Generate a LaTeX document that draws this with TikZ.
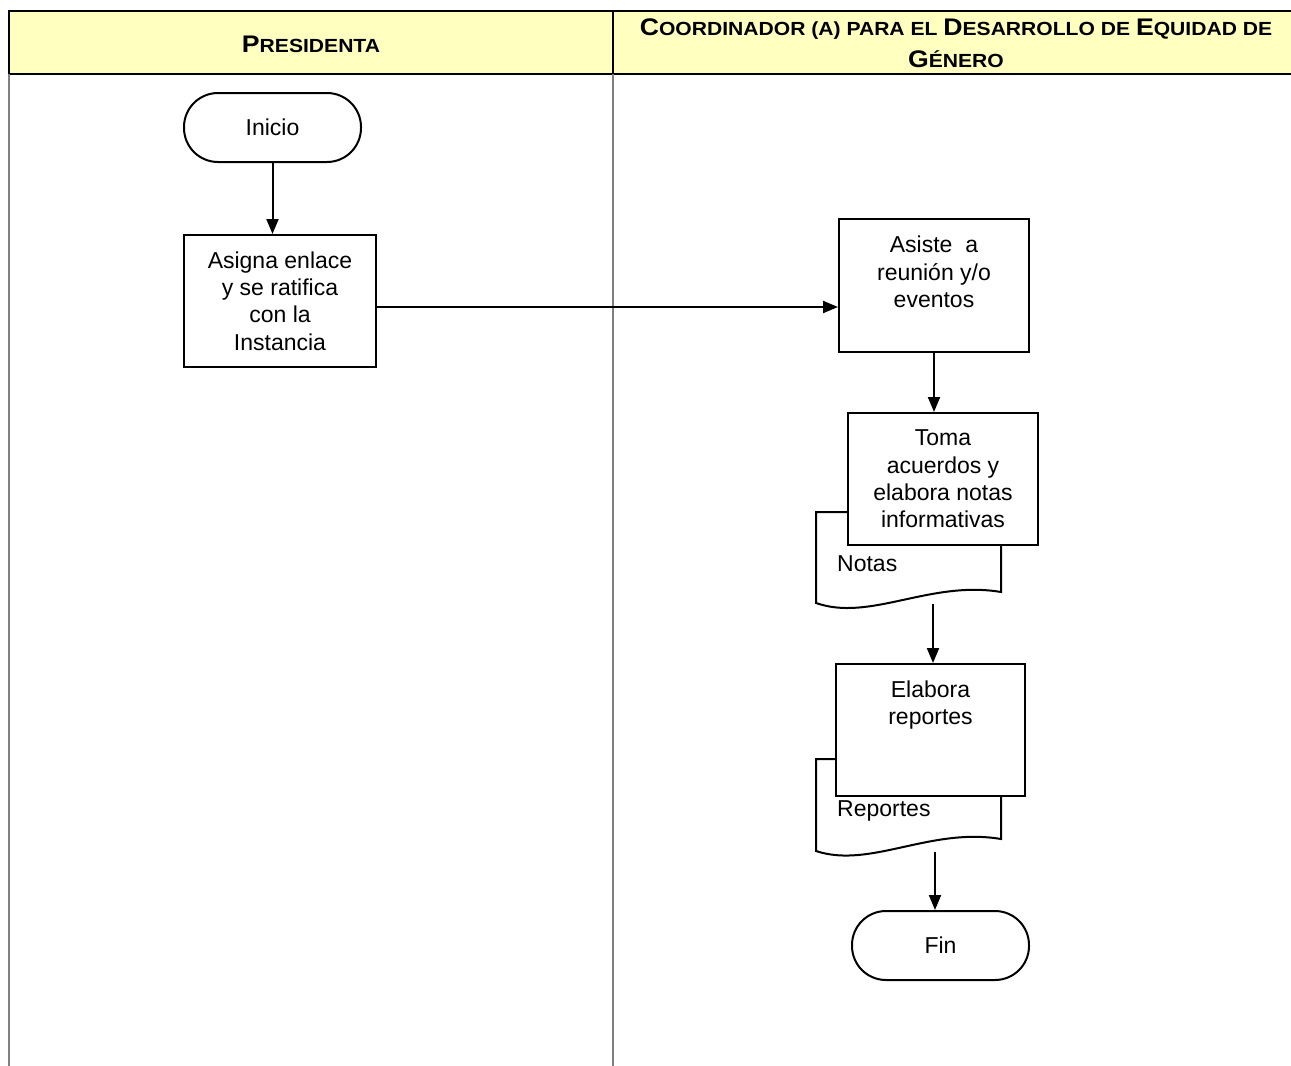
\documentclass[tikz,border=0pt]{standalone}
\usepackage{fontspec}
\setmainfont{Liberation Sans}
\newfontfamily\hdrfont[FakeStretch=1.11]{Liberation Sans Bold}
\usetikzlibrary{arrows.meta}
% larger capitals for the small-caps lane titles
\newcommand\hcap[1]{{\fontsize{24}{32}\selectfont #1}}

\definecolor{hdrfill}{RGB}{255,255,192}
\definecolor{lanegray}{RGB}{128,128,128}

\tikzset{
  body/.style={font=\fontsize{23}{27.3}\selectfont, align=center, inner sep=0pt},
  procbox/.style={body, draw, line width=2pt, fill=white, rectangle},
  termbox/.style={body, draw, line width=2pt, fill=white, rectangle,
                  minimum width=177pt, minimum height=69pt, rounded corners=34pt},
  docshape/.style={draw, line width=2pt, fill=white},
  arr/.style={-{Triangle[length=15pt,width=12pt]}, line width=2pt},
  lane/.style={draw=lanegray, line width=2pt},
  hdrtext/.style={font=\hdrfont\fontsize{19}{32}\selectfont, align=center, inner sep=0pt}
}

\begin{document}
\begin{tikzpicture}[x=1pt,y=-1pt]
\useasboundingbox (0,0) rectangle (1291,1066);

% swimlane header
\fill[hdrfill] (9,11) rectangle (1300,74);
\draw[line width=2.6pt] (1300,11) -- (9,11) -- (9,74) -- (1300,74);
\draw[line width=2.6pt] (613,11) -- (613,74);
\node[hdrtext] (hpres) at (311,44) {\hcap{P}RESIDENTA};
\node[hdrtext] (hcoord) at (956,43) {\hcap{C}OORDINADOR (A) PARA EL \hcap{D}ESARROLLO DE \hcap{E}QUIDAD DE\\\hcap{G}ÉNERO};

% lane separators
\draw[lane] (9,74) -- (9,1066);
\draw[lane] (613,74) -- (613,1066);

% left lane
\node[termbox] (inicio) at (272.5,127.5) {Inicio};
\node[procbox, minimum width=192pt, minimum height=132pt] (asigna) at (280,301)
  {Asigna enlace\\y se ratifica\\con la\\Instancia};

% right lane
\node[procbox, minimum width=190pt, minimum height=133pt] (asiste) at (934,285.5)
  {Asiste\ \ a\\reunión y/o\\eventos\\\mbox{}};

% notes document behind its process box
\draw[docshape] (816,512) -- (1001,512) -- (1001,592)
  .. controls (930,580) and (870,622) .. (816,603) -- cycle;
\node[procbox, minimum width=190pt, minimum height=132pt] (toma) at (943,479)
  {Toma\\acuerdos y\\elabora notas\\informativas};
\node[body, anchor=west] (notas) at (837,564) {Notas};
\coordinate (notasbase) at (933,604);

% reports document behind its process box
\draw[docshape] (816,759) -- (1001,759) -- (1001,839)
  .. controls (930,827) and (870,869) .. (816,851) -- cycle;
\node[procbox, minimum width=189pt, minimum height=132pt] (elabora) at (930.5,730)
  {Elabora\\reportes\\\mbox{}\\\mbox{}};
\node[body, anchor=west] (reportes) at (837,811) {Reportes};
\coordinate (reportesbase) at (935,852);

\node[termbox] (fin) at (940.5,945.5) {Fin};

% connectors
\draw[arr] (inicio) -- (inicio |- asigna.north);
\draw[arr] ([yshift=-6pt]asigna.east) -- ([yshift=-6pt]asigna.east -| asiste.west);
\draw[arr] (asiste) -- (asiste |- toma.north);
\draw[arr] (notasbase) -- (notasbase |- elabora.north);
\draw[arr] (reportesbase) -- (reportesbase |- fin.north);
\end{tikzpicture}
\end{document}
